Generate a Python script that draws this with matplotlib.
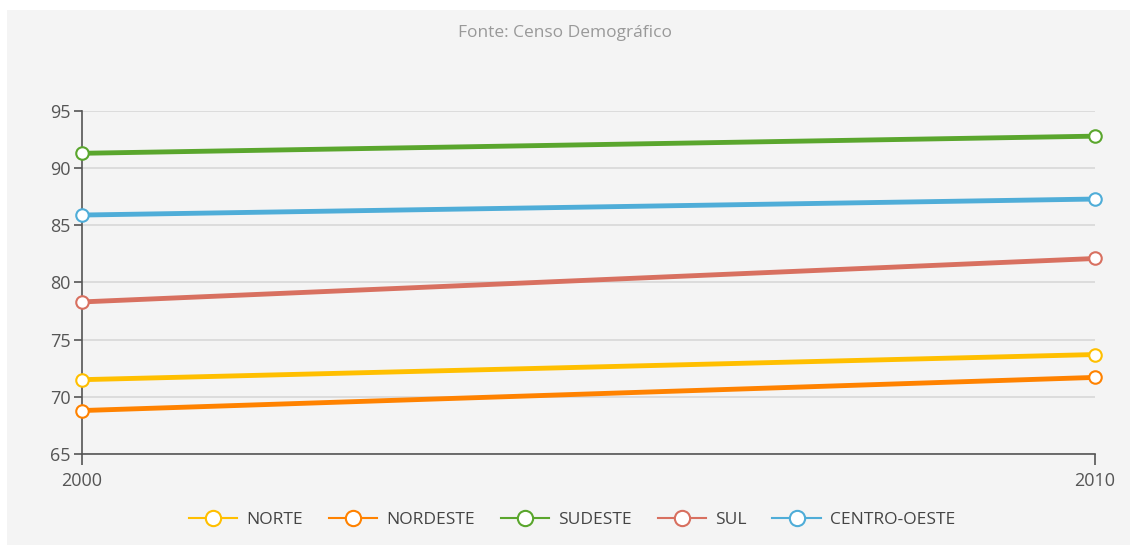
import matplotlib.pyplot as plt
from matplotlib.patches import Rectangle

plt.rcParams['font.family'] = ['Open Sans', 'DejaVu Sans']

years = [2000, 2010]
norte = [71.5, 73.7]
nordeste = [68.8, 71.7]
sudeste = [91.3, 92.8]
sul = [78.3, 82.1]
centro_oeste = [85.9, 87.3]

series = [
    ("NORTE", norte, "#FFBF00"),
    ("NORDESTE", nordeste, "#FF8200"),
    ("SUDESTE", sudeste, "#5AA62D"),
    ("SUL", sul, "#D87060"),
    ("CENTRO-OESTE", centro_oeste, "#4FADD8"),
]

bg = "#F4F4F4"
fig = plt.figure(figsize=(11.3, 5.45), dpi=100)
fig.patch.set_facecolor("white")
fig.patches.append(Rectangle((7 / 1130, 0), 1 - 7 / 1130, 1 - 10 / 545,
                             transform=fig.transFigure, facecolor=bg,
                             edgecolor="none", zorder=-10))

ax = fig.add_axes([82 / 1130, 1 - 454 / 545, (1095 - 82) / 1130, (454 - 111) / 545])
ax.set_facecolor(bg)

for name, vals, col in series:
    ax.plot(years, vals, color=col, lw=3.5, marker="o", ms=9,
            markerfacecolor="white", markeredgecolor=col, markeredgewidth=1.5,
            label=name, clip_on=False, zorder=3)

ax.set_xlim(2000, 2010)
ax.set_ylim(65, 95)
ax.set_yticks([65, 70, 75, 80, 85, 90, 95])
ax.set_xticks([2000, 2010])
ax.yaxis.grid(True, color="#D8D8D8", lw=1.2)
ax.set_axisbelow(True)

for s in ["top", "right"]:
    ax.spines[s].set_visible(False)
for s in ["left", "bottom"]:
    ax.spines[s].set_color("#555555")
    ax.spines[s].set_linewidth(1.2)

ax.tick_params(axis="y", length=6, width=1.2, color="#555555", labelsize=13,
               labelcolor="#555555", pad=2)
ax.tick_params(axis="x", length=8, width=1.2, color="#555555", labelsize=13,
               labelcolor="#555555", pad=5)

fig.text(0.5, 1 - 33 / 545, "Fonte: Censo Demográfico", ha="center", va="center",
         fontsize=12.5, color="#999999")

leg = fig.legend(loc="center", bbox_to_anchor=(0.506, 1 - 520 / 545), ncol=5,
                 frameon=False, fontsize=12.5, handlelength=2.8, columnspacing=1.5,
                 handletextpad=0.5)
for t in leg.get_texts():
    t.set_color("#444444")
for h in leg.legend_handles:
    h.set_linewidth(1.5)
    h.set_markersize(11)

fig.savefig("out.png", dpi=100, facecolor=fig.get_facecolor())
